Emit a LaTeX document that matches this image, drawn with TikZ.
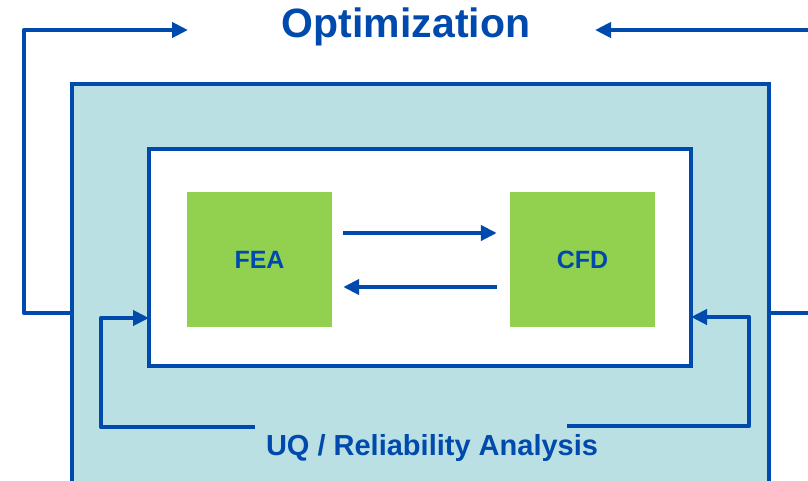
\documentclass[tikz,border=0pt]{standalone}
\usepackage{fontspec}
\setmainfont{Liberation Sans}
\usetikzlibrary{arrows.meta,positioning,calc}
\definecolor{uqblue}{HTML}{004AAD}
\definecolor{panel}{HTML}{BBE0E3}
\definecolor{solvergreen}{HTML}{92D050}

\begin{document}
\begin{tikzpicture}[x=1pt, y=-1pt,
    frame/.style={draw=uqblue, line width=4.5pt, rectangle, anchor=north west, inner sep=0pt, outer sep=0pt},
    solverbox/.style={fill=solvergreen, minimum width=145pt, minimum height=135pt, inner sep=0pt, text=uqblue, font=\fontsize{25}{30}\selectfont\bfseries},
    heading/.style={text=uqblue, inner sep=0pt, anchor=base, font=\fontsize{41}{48}\selectfont\bfseries},
    flow/.style={draw=uqblue, line width=4.5pt, line join=round, -{Triangle[length=16pt, width=15pt]}}
]
\useasboundingbox (0,0) rectangle (808,480);
\clip (0,0) rectangle (808,480);

\node[frame, fill=panel, minimum width=697pt, minimum height=458pt] (outer) at (72,84) {};
\node[frame, fill=white, minimum width=542pt, minimum height=217pt] (inner) at (149,149) {};

\node[solverbox] (fea) at (259.5,259.5) {FEA};
\node[solverbox] (cfd) at (582.5,259.5) {CFD};

\node[heading] (opt) at (406,37) {Optimization};
\node[heading, font=\fontsize{29}{34}\selectfont\bfseries] (uq) at (432,455) {UQ / Reliability Analysis};

\coordinate (optL) at (188,30);
\coordinate (optR) at (595,30);
\coordinate (uqL) at (255,427);
\coordinate (uqR) at (567,426);

% coupling between the solvers
\draw[flow] ([xshift=11pt, yshift=26.5pt]fea.east) -- ([xshift=-13pt, yshift=26.5pt]cfd.west);
\draw[flow] ([xshift=-13pt, yshift=-27.5pt]cfd.west) -- ([xshift=11pt, yshift=-27.5pt]fea.east);

% optimization loop
\draw[flow] (outer.west) -- ++(-48,0) |- (optL);
\draw[flow] (outer.east) -- ++(45,0) |- (optR);

% uq loop
\draw[flow] (uqL) -- ++(-154,0) |- ([yshift=-60.5pt]inner.west);
\draw[flow] (uqR) -- ++(182,0) |- ([yshift=-59.5pt]inner.east);

\end{tikzpicture}
\end{document}
